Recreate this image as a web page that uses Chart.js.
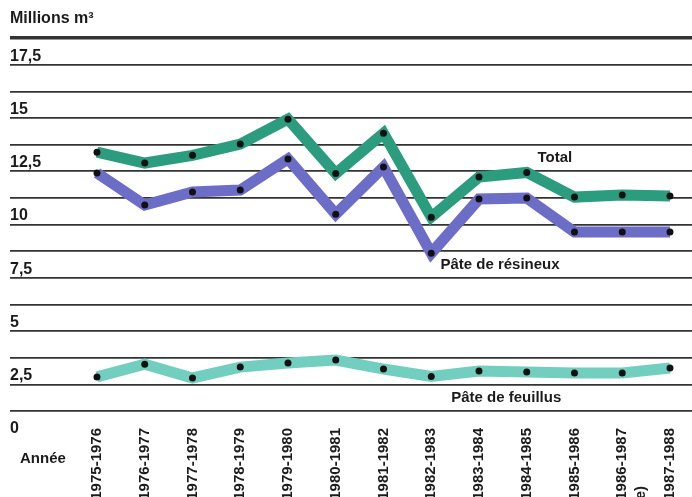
<!DOCTYPE html>
<html>
<head>
<meta charset="utf-8">
<script src="https://cdn.jsdelivr.net/npm/chart.js@4/dist/chart.umd.min.js"></script>
<style>
  html, body { margin: 0; padding: 0; background: #ffffff; overflow: hidden; }
  #wrap { position: relative; width: 692px; height: 560px; }
</style>
</head>
<body>
<div id="wrap"><canvas id="c"></canvas></div>
<script>
// ---- Data ----
const categories = ['1975-1976','1976-1977','1977-1978','1978-1979','1979-1980','1980-1981','1981-1982','1982-1983','1983-1984','1984-1985','1985-1986','1986-1987','1987-1988'];
const categoryNotes = ['', '', '', '', '', '', '', '', '', '', '', '(estimée)', ''];
const totalValues    = [12.15, 11.64, 12.0, 12.53, 13.7, 11.15, 13.04, 9.1, 10.98, 11.2, 10.04, 10.14, 10.09];
const resineuxValues = [11.17, 9.67, 10.28, 10.37, 11.83, 9.24, 11.45, 7.41, 9.95, 10.0, 8.4, 8.4, 8.4];
const feuillusValues = [1.6, 2.2, 1.55, 2.06, 2.25, 2.39, 1.97, 1.62, 1.88, 1.83, 1.78, 1.78, 2.02];
const yTickLabels    = [0, 2.5, 5, 7.5, 10, 12.5, 15, 17.5];
const seriesNames    = ['Total', 'Pâte de résineux', 'Pâte de feuillus'];
const unitTitle      = 'Millions m³';
const xAxisName      = 'Année';

// ---- Styles ----
const FONT = "'Liberation Sans', Arial, sans-serif";
const INK = '#1b1b1b';
const colors = ['#2c9c7e', '#6b6dc6', '#72cfc0'];
const CANVAS_H = 560;
const AXIS_BOTTOM = 411;

// series label placement, in data coordinates (category index, value)
const notePlacement = [
  { x: 9.59, y: 11.87 },
  { x: 8.44, y: 6.85 },
  { x: 8.57, y: 0.62 }
];

const xs = categories.map((_, i) => i);
function pts(vals) { return vals.map((v, i) => ({ x: xs[i], y: v })); }

const ds = (label, vals, color) => ({
  label,
  data: pts(vals),
  borderColor: color,
  backgroundColor: color,
  borderWidth: 11,
  borderJoinStyle: 'miter',
  borderCapStyle: 'butt',
  tension: 0,
  pointRadius: 3.5,
  pointBackgroundColor: '#111111',
  pointBorderWidth: 0,
  fill: false
});

const notesPlugin = {
  id: 'notes',
  afterDatasetsDraw(chart) {
    const { ctx, scales: { x, y } } = chart;
    ctx.save();
    ctx.fillStyle = INK;
    ctx.font = "bold 15px " + FONT;
    ctx.textAlign = 'center';
    ctx.textBaseline = 'middle';
    seriesNames.forEach((name, i) => {
      const p = notePlacement[i];
      ctx.fillText(name, x.getPixelForValue(p.x), y.getPixelForValue(p.y));
    });
    ctx.textAlign = 'left';
    ctx.fillText(xAxisName, 20, 459);
    // second line of category notes (rotated, like the tick labels)
    categoryNotes.forEach((note, i) => {
      if (!note) return;
      ctx.save();
      ctx.translate(x.getPixelForValue(xs[i]) + 19, 486);
      ctx.rotate(-Math.PI / 2);
      ctx.textAlign = 'right';
      ctx.fillText(note, 0, 0);
      ctx.restore();
    });
    ctx.restore();
  }
};

new Chart(document.getElementById('c'), {
  type: 'line',
  data: {
    datasets: [
      ds(seriesNames[0], totalValues, colors[0]),
      ds(seriesNames[1], resineuxValues, colors[1]),
      ds(seriesNames[2], feuillusValues, colors[2])
    ]
  },
  plugins: [notesPlugin],
  options: {
    responsive: true,
    maintainAspectRatio: false,
    animation: false,
    layout: { autoPadding: false, padding: { left: 10, right: 0, top: 0, bottom: 0 } },
    plugins: {
      legend: { display: false },
      tooltip: { enabled: false },
      title: {
        display: true,
        text: unitTitle,
        align: 'start',
        color: INK,
        font: { family: FONT, size: 16, weight: 'bold' },
        padding: { top: 9, bottom: 10 }
      }
    },
    scales: {
      x: {
        type: 'linear',
        min: -1.822,
        max: 12.461,
        grid: { display: false, drawTicks: false },
        border: { display: false },
        afterBuildTicks: (s) => { s.ticks = xs.map(v => ({ value: v })); },
        afterFit: (s) => {
          s.height = CANVAS_H - AXIS_BOTTOM;
          s.paddingLeft = 0;
          s.paddingRight = 0;
        },
        ticks: {
          autoSkip: false,
          minRotation: 90,
          maxRotation: 90,
          padding: 17,
          color: INK,
          font: { family: FONT, size: 15, weight: 'bold' },
          callback: (v) => categories[v]
        }
      },
      y: {
        min: 0,
        max: 17.5,
        afterBuildTicks: (s) => {
          const t = [];
          for (let k = 0; k <= 14; k++) t.push({ value: k * 1.25 });
          s.ticks = t;
        },
        afterFit: (s) => { s.paddingTop = 0; s.paddingBottom = 0; },
        grid: {
          drawTicks: false,
          color: '#333333',
          lineWidth: (c) => (c.tick && c.tick.value === 17.5) ? 3.5 : 1.7
        },
        border: { display: false },
        ticks: {
          mirror: true,
          padding: 0,
          labelOffset: 18,
          color: INK,
          font: { family: FONT, size: 16, weight: 'bold' },
          callback: (v) => yTickLabels.includes(v) ? String(v).replace('.', ',') : ''
        }
      }
    }
  }
});
</script>
</body>
</html>
